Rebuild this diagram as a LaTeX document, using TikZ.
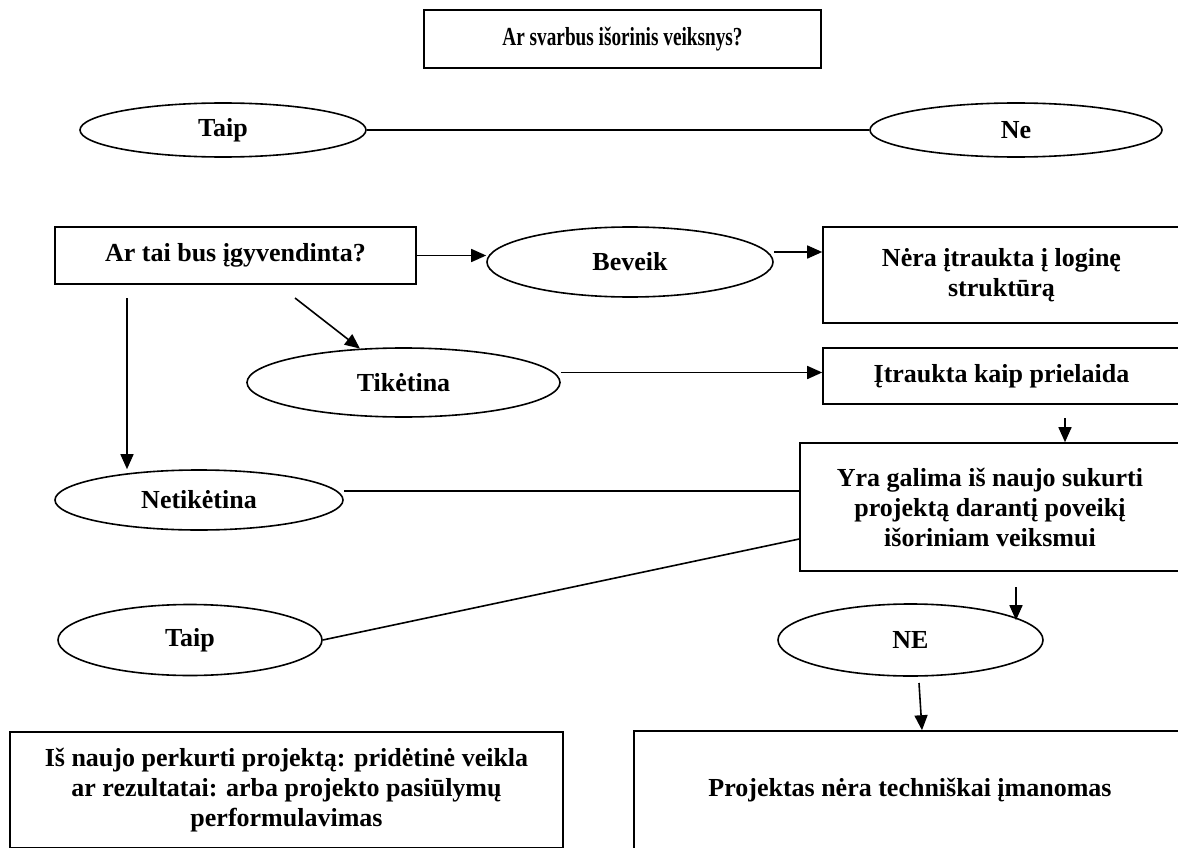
\documentclass[tikz,border=0pt]{standalone}
\usepackage{fontspec}
\setmainfont{Liberation Serif}
\usetikzlibrary{shapes.geometric,arrows.meta}
\begin{document}
\begin{tikzpicture}[x=1pt,y=-1pt,
  lbl/.style={font=\fontsize{26}{30}\selectfont\bfseries, align=center, inner sep=0pt},
  boxn/.style={lbl, draw, line width=1.6pt, rectangle},
  ell/.style={lbl, draw, line width=1.6pt, ellipse},
  conn/.style={line width=1.6pt},
  arr/.style={conn, -{Triangle[length=15pt,width=13pt]}}]
\useasboundingbox (0,0) rectangle (1178,848);
\fill[white] (0,0) rectangle (1178,848);
\begin{scope}
\clip (0,0) rectangle (1178,848);
% nodes
\node[boxn, minimum width=397pt, minimum height=58pt] (q1) at (622.5,39) {\scalebox{0.74}[1]{Ar svarbus išorinis veiksnys?}};
\node[ell, minimum width=286pt, minimum height=54pt] (taip1) at (223,130) {Taip};
\node[ell, minimum width=292pt, minimum height=54pt] (ne1) at (1016,130) {Ne};
\node[boxn, minimum width=361pt, minimum height=57pt] (q2) at (235.5,255.5) {Ar tai bus įgyvendinta?};
\node[ell, minimum width=286pt, minimum height=70pt] (beveik) at (630,262) {Beveik};
\node[boxn, minimum width=357pt, minimum height=96pt] (nera) at (1001.5,275) {Nėra įtraukta į loginę\\struktūrą};
\node[ell, minimum width=313pt, minimum height=69pt] (tik) at (403.5,382.5) {Tikėtina};
\node[boxn, minimum width=357pt, minimum height=56pt] (ita) at (1001.5,376) {Įtraukta kaip prielaida};
\node[ell, minimum width=288pt, minimum height=60pt] (netik) at (199,500) {Netikėtina};
\node[boxn, minimum width=380pt, minimum height=128pt] (yra) at (990,507) {Yra galima iš naujo sukurti\\projektą darantį poveikį\\išoriniam veiksmui};
\node[ell, minimum width=264pt, minimum height=71pt] (taip2) at (190,640) {Taip};
\node[ell, minimum width=265pt, minimum height=72pt] (neE) at (910.5,640) {NE};
\node[boxn, minimum width=553pt, minimum height=116pt] (rez) at (286.5,790) {Iš naujo perkurti projektą: pridėtinė veikla\\ar rezultatai: arba projekto pasiūlymų\\performulavimas};
\node[boxn, minimum width=552pt, minimum height=118pt] (proj) at (910,790) {Projektas nėra techniškai įmanomas};
% free ends
\coordinate (d1) at (295,298);
\coordinate (d2) at (127,298);
\coordinate (d3) at (1065,418);
\coordinate (d4) at (1016,587);
\coordinate (d5) at (919,683);
% connectors
\draw[conn] (taip1.east) -- (ne1.west);
\draw[arr] (q2.east) -- (q2.east -| beveik.west);
\draw[arr] ([yshift=10pt]beveik.east) -- ([yshift=10pt]beveik.east -| nera.west);
\draw[arr] (d1) -- (tik);
\draw[arr] ([yshift=10pt]tik.east) -- ([yshift=10pt]tik.east -| ita.west);
\draw[arr] (d2) -- (d2 |- netik.north);
\draw[conn] ([yshift=9pt]netik.east) -- ([yshift=9pt]netik.east -| yra.west);
\draw[conn] (taip2.east) -- ([yshift=-32pt]yra.west);
\draw[arr] (d3) -- (d3 |- yra.north);
\draw[arr] (d4) -- ([yshift=-17pt]d4 |- neE.north);
\draw[arr] (d5) -- ([xshift=3pt]d5 |- proj.north);
\end{scope}
\end{tikzpicture}
\end{document}
